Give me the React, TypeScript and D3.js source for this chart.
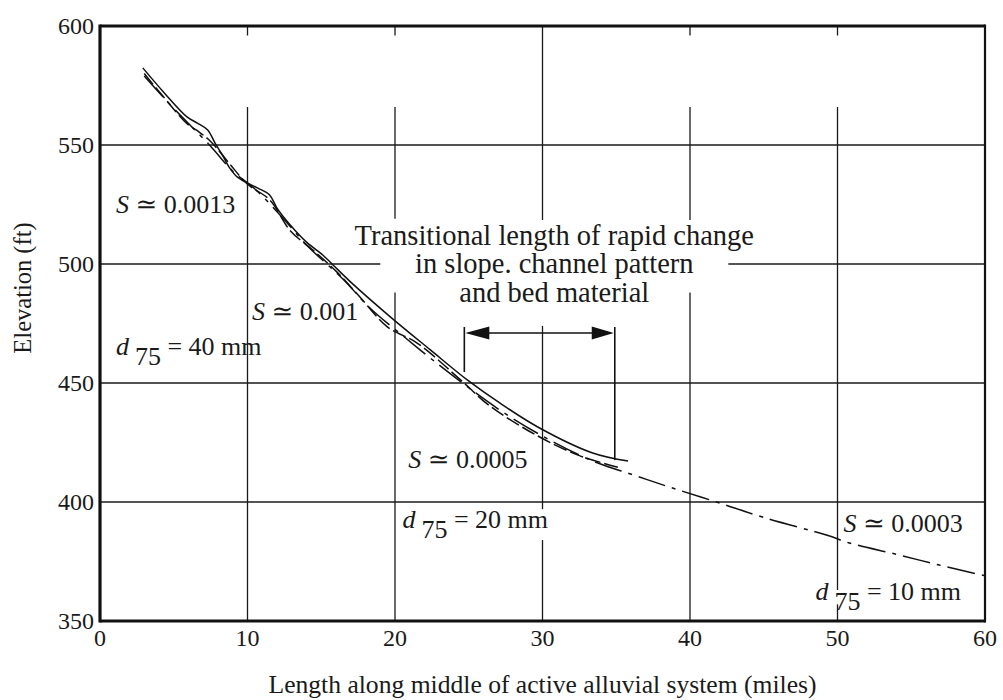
import React from 'react';
import * as d3 from 'd3';

const width = 1003;
const height = 700;

// channel profile (miles, ft)
const solidMiles = [2.9, 4.3, 5.9, 6.6, 7.3, 7.8, 8.3, 8.8, 9.3, 10.0, 10.7, 11.5, 12.0, 12.9, 14.0, 15.1, 15.8, 17.0, 19.7, 22.4, 24.9, 27.1, 29.8, 33.4, 35.8];
const solidElev = [582.4, 572.3, 561.8, 559.2, 556.3, 550.8, 545.8, 540.3, 536.6, 534.0, 531.9, 529.0, 523.5, 516.4, 509.2, 503.8, 499.6, 492.4, 477.7, 463.9, 451.3, 441.6, 431.1, 420.6, 417.2];

const dashedMiles = [3.0, 4.2, 5.9, 6.6, 7.5, 8.8, 10.0, 11.5, 12.9, 14.5, 16.0, 17.5, 19.5, 21.5, 24.5, 26.4, 29.6, 32.5, 35.3];
const dashedElev = [580, 571, 559, 556, 551.5, 542, 533.5, 527, 514, 505.5, 497, 487, 473.5, 466.8, 451, 440.5, 428, 419.5, 414.3];

const dashDotMiles = [3.0, 4.6, 6.0, 7.5, 9.0, 10.5, 12.3, 14.0, 16.5, 18.3, 20.5, 23.0, 25.0, 27.5, 30.5, 33.5, 36.1, 38.6, 41.8, 45.0, 49.3, 50.8, 54.0, 56.9, 60.0];
const dashDotElev = [579, 568, 559, 549.5, 539, 531.5, 520, 508, 493.5, 481.5, 470, 457.5, 448, 437, 426, 417, 411.5, 406.3, 400, 393.5, 386, 382.8, 378, 373.5, 369];

const xDomain = [0, 60];
const yDomain = [350, 600];

// transitional reach marked by the arrow (miles)
const transitionStart = 24.7;
const transitionEnd = 34.9;
const transitionArrowElev = 471;
const transitionLeftFoot = 454.6;
const transitionRightFoot = 417.6;

const titleLines = [
  'Transitional length of rapid change',
  'in slope. channel pattern',
  'and bed material',
];

const xLabel = 'Length along middle of active alluvial system (miles)';
const yLabel = 'Elevation (ft)';

// grid segments, broken where the figure leaves room for text
const vGrid: { at: number; spans: [number, number][] }[] = [
  { at: 10, spans: [[600, 596], [566, 350]] },
  { at: 20, spans: [[600, 596], [566, 519], [488, 350]] },
  { at: 30, spans: [[600, 518.5], [474, 397], [384, 350]] },
  { at: 40, spans: [[600, 596], [566, 518.5], [488, 350]] },
  { at: 50, spans: [[600, 596], [566, 363], [357, 350]] },
];
const hGrid: { at: number; spans: [number, number][] }[] = [
  { at: 550, spans: [[0, 60]] },
  { at: 500, spans: [[0, 19], [42.6, 60]] },
  { at: 450, spans: [[0, 60]] },
  { at: 400, spans: [[0, 60]] },
];

const slopeNotes = [
  { text: '0.0013', mile: 1.08, elev: 521.4 },
  { text: '0.001', mile: 10.3, elev: 476.5 },
  { text: '0.0005', mile: 20.9, elev: 414.3 },
  { text: '0.0003', mile: 50.4, elev: 387.4 },
];
const sizeNotes = [
  { text: '40 mm', mile: 1.08, elev: 461.8 },
  { text: '20 mm', mile: 20.5, elev: 389 },
  { text: '10 mm', mile: 48.5, elev: 358.8 },
];

const font = '"Liberation Serif", "Times New Roman", "DejaVu Serif", serif';
const ink = '#1a1a1a';

export default function App() {
  const x = d3.scaleLinear().domain(xDomain).range([100, 985]);
  const y = d3.scaleLinear().domain(yDomain).range([621, 26]);

  const line = d3.line<[number, number]>()
    .x(d => x(d[0]))
    .y(d => y(d[1]))
    .curve(d3.curveCatmullRom.alpha(0.5));

  const zip = (a: number[], b: number[]) => a.map((v, i) => [v, b[i]] as [number, number]);

  const ax = x(transitionStart);
  const bx = x(transitionEnd);
  const ay = y(transitionArrowElev);

  return (
    <svg width={width} height={height} style={{ position: 'absolute', left: 0, top: 0, background: '#fff' }}
      fontFamily={font} fill={ink}>
      {/* grid */}
      <g stroke={ink} strokeWidth={1.3}>
        {vGrid.map(g => g.spans.map((s, i) => (
          <line key={`v${g.at}-${i}`} x1={x(g.at)} x2={x(g.at)} y1={y(s[0])} y2={y(s[1])} />
        )))}
        {hGrid.map(g => g.spans.map((s, i) => (
          <line key={`h${g.at}-${i}`} x1={x(s[0])} x2={x(s[1])} y1={y(g.at)} y2={y(g.at)} />
        )))}
      </g>

      {/* frame */}
      <g stroke="#111" fill="none">
        <line x1={x(0)} x2={x(60)} y1={y(600)} y2={y(600)} strokeWidth={3} />
        <line x1={x(0)} x2={x(60)} y1={y(350)} y2={y(350)} strokeWidth={3.2} />
        <line x1={x(0)} x2={x(0)} y1={y(600) - 1.5} y2={y(350) + 1.5} strokeWidth={3.2} />
        <line x1={x(60)} x2={x(60)} y1={y(600) - 1.5} y2={y(350) + 1.5} strokeWidth={2.2} />
      </g>

      {/* profiles */}
      <g fill="none" stroke="#111" strokeWidth={1.5}>
        <path d={line(zip(solidMiles, solidElev)) ?? ''} />
        <path d={line(zip(dashedMiles, dashedElev)) ?? ''} strokeDasharray="14,4" />
        <path d={line(zip(dashDotMiles, dashDotElev)) ?? ''} strokeDasharray="28,7,4,7" />
      </g>

      {/* ticks */}
      <g fontSize={24} textAnchor="middle">
        {x.ticks(6).map(t => (
          <text key={t} x={x(t)} y={646}>{t}</text>
        ))}
      </g>
      <g fontSize={24} textAnchor="end">
        {y.ticks(5).map(t => (
          <text key={t} x={94} y={y(t) + 8}>{t}</text>
        ))}
      </g>

      <text x={(x(0) + x(60)) / 2} y={693} fontSize={25.6} textAnchor="middle">{xLabel}</text>
      <text transform={`translate(31, 288) rotate(-90)`} fontSize={24.5} textAnchor="middle">{yLabel}</text>

      {/* transitional reach */}
      <g fontSize={28.5} textAnchor="middle">
        {titleLines.map((t, i) => (
          <text key={i} x={x(30.8)} y={y(508) + i * 28.5}>{t}</text>
        ))}
      </g>
      <g stroke="#111" strokeWidth={1.6}>
        <line x1={ax} x2={ax} y1={ay - 6} y2={y(transitionLeftFoot)} />
        <line x1={bx} x2={bx} y1={ay - 6} y2={y(transitionRightFoot)} />
        <line x1={ax + 4} x2={bx - 4} y1={ay} y2={ay} />
      </g>
      <path d={`M${ax + 1},${ay} L${ax + 25},${ay - 6.5} L${ax + 25},${ay + 6.5} Z`} fill="#111" />
      <path d={`M${bx - 1},${ay} L${bx - 23},${ay - 6.5} L${bx - 23},${ay + 6.5} Z`} fill="#111" />

      {/* slope and grain size notes */}
      <g fontSize={26}>
        {slopeNotes.map(n => (
          <text key={n.text} x={x(n.mile)} y={y(n.elev)}>
            <tspan fontStyle="italic">S</tspan>
            <tspan> ≃ {n.text}</tspan>
          </text>
        ))}
        {sizeNotes.map(n => (
          <text key={n.text} x={x(n.mile)} y={y(n.elev)}>
            <tspan fontStyle="italic">d</tspan>
            <tspan dx={6} dy={10}>75</tspan>
            <tspan dy={-10}> = {n.text}</tspan>
          </text>
        ))}
      </g>
    </svg>
  );
}
